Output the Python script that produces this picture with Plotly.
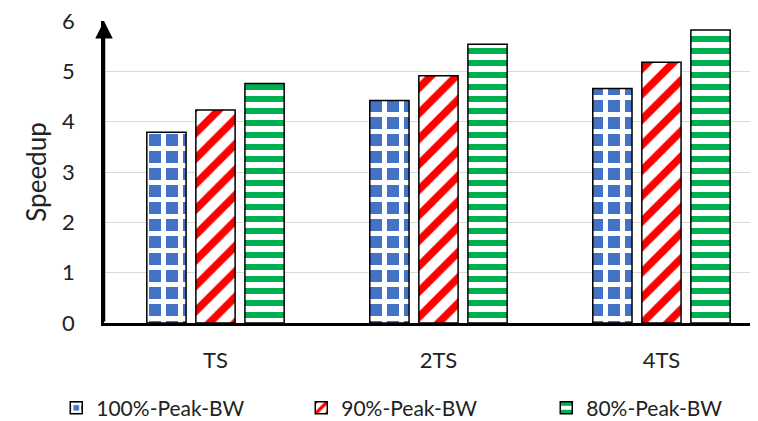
import plotly.graph_objects as go

categories = ["TS", "2TS", "4TS"]
series_names = ["100%-Peak-BW", "90%-Peak-BW", "80%-Peak-BW"]
peak100 = [3.79, 4.42, 4.66]
peak90 = [4.23, 4.91, 5.18]
peak80 = [4.76, 5.54, 5.82]
y_ticks = [0, 1, 2, 3, 4, 5, 6]

font_family = "Lato, Carlito, 'Open Sans', sans-serif"

fig = go.Figure()

# checkerboard-ish (blue tiles), diagonal red stripes, horizontal green stripes
styles = [
    dict(shape="+", fgcolor="white", bgcolor="#4472C4", size=17, solidity=0.5),
    dict(shape="/", fgcolor="#FF0000", bgcolor="white", size=18, solidity=0.42),
    dict(shape="-", fgcolor="#00B050", bgcolor="white", size=12, solidity=0.5),
]

for name, vals, st in zip(series_names, [peak100, peak90, peak80], styles):
    fig.add_trace(go.Bar(
        x=categories, y=vals, name=name,
        marker=dict(color="white", line=dict(color="black", width=1.5),
                    pattern=dict(fillmode="replace", **st)),
    ))

# arrow on top of the y axis
fig.add_annotation(
    x=0, xref="paper", y=6, yref="y",
    ax=0, axref="pixel", ay=0, ayref="y",
    showarrow=True, arrowhead=2, arrowsize=1.4, arrowwidth=2.5,
    arrowcolor="black", text="",
)

# page body has an 8px margin, so the figure is a bit smaller than the window
fig.update_layout(
    width=750, height=413,
    margin=dict(l=96, r=0, t=13, b=98, autoexpand=False),
    paper_bgcolor="white", plot_bgcolor="white",
    font=dict(family=font_family, size=22, color="#222222"),
    barmode="group", bargap=0.34, bargroupgap=0.2,
    showlegend=True,
    legend=dict(orientation="h", x=-0.073, xanchor="left", y=-0.282, yanchor="middle",
                font=dict(size=21), itemwidth=30, entrywidth=200,
                entrywidthmode="pixels", traceorder="normal"),
    xaxis=dict(range=[-0.5, 2.433], showline=True, linecolor="black", linewidth=2.5,
               showgrid=False, ticks="", ticklabelstandoff=16, automargin=False),
    yaxis=dict(range=[0, 6], tickvals=y_ticks, showline=True, linecolor="black",
               linewidth=2.5, showgrid=True, gridcolor="#d9d9d9", gridwidth=1,
               zeroline=False, ticks="", ticklabelstandoff=22, automargin=False,
               ticklabeloverflow="allow",
               title=dict(text="Speedup", standoff=8)),
)

fig.write_html("out.html")
